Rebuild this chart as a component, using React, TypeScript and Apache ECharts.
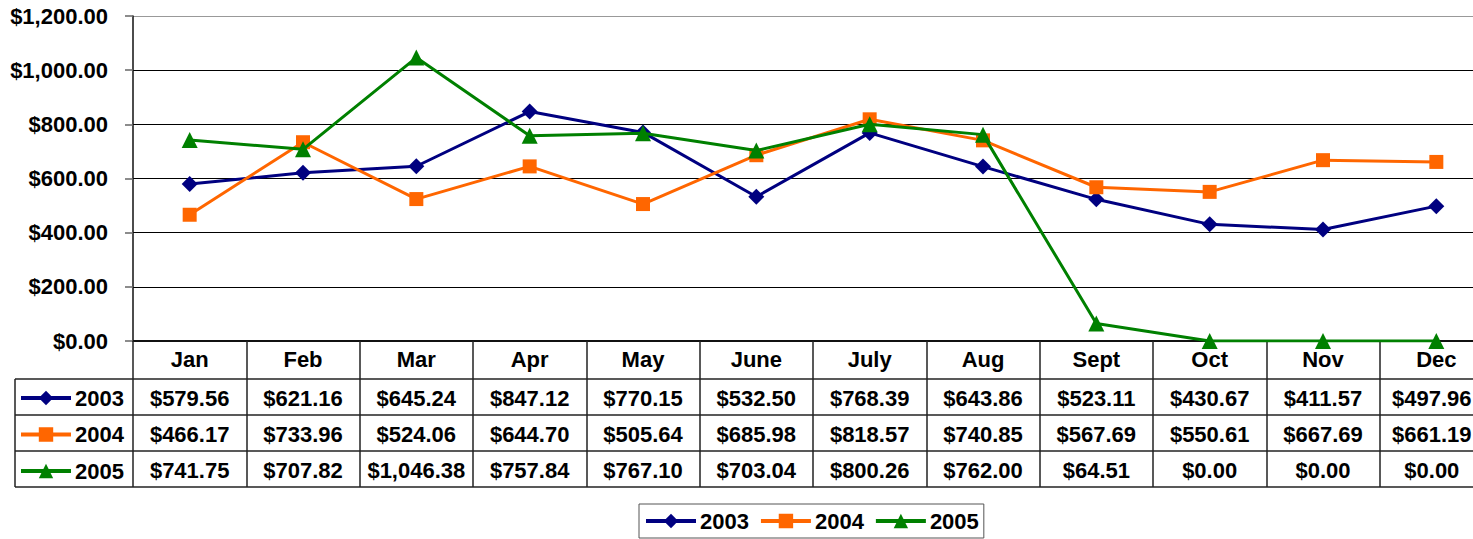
import React, { useEffect, useRef } from "react";
import * as echarts from "echarts";

const months = ["Jan", "Feb", "Mar", "Apr", "May", "June", "July", "Aug", "Sept", "Oct", "Nov", "Dec"];
const seriesNames = ["2003", "2004", "2005"];
const values2003 = [579.56, 621.16, 645.24, 847.12, 770.15, 532.5, 768.39, 643.86, 523.11, 430.67, 411.57, 497.96];
const values2004 = [466.17, 733.96, 524.06, 644.7, 505.64, 685.98, 818.57, 740.85, 567.69, 550.61, 667.69, 661.19];
const values2005 = [741.75, 707.82, 1046.38, 757.84, 767.1, 703.04, 800.26, 762.0, 64.51, 0, 0, 0];
const yTicks = { min: 0, max: 1200, interval: 200 };

const allValues = [values2003, values2004, values2005];
const colors = ["#000080", "#FF6600", "#008000"];
const symbols = ["diamond", "rect", "triangle"];
const symbolSizes = [16, 14, 16];

const FONT = "'Liberation Sans', Arial, sans-serif";

function money(v: number): string {
  const fixed = Math.abs(v).toFixed(2);
  const [intPart, dec] = fixed.split(".");
  const withCommas = intPart.replace(/\B(?=(\d{3})+(?!\d))/g, ",");
  return (v < 0 ? "-$" : "$") + withCommas + "." + dec;
}

export default function App() {
  const ref = useRef<HTMLDivElement>(null);

  useEffect(() => {
    if (!ref.current) return;
    const chart = echarts.init(ref.current, null, { renderer: "svg" });
    const textBase = { fontFamily: FONT, fontWeight: "bold" as const, fontSize: 22, color: "#000" };
    const gridLeft = 133;
    const gridTop = 16;
    const gridBottomY = 341;
    const H = 539;
    const lineColor = "#222";
    const lastIdx = months.length - 1;

    const valueAxes = allValues.map((vals, i) => ({
      type: "category" as const,
      data: months,
      position: "bottom" as const,
      gridIndex: 0,
      axisLine: { show: false },
      axisTick: { show: false },
      splitLine: { show: false },
      axisLabel: {
        interval: 0,
        margin: 57 + 36 * i,
        verticalAlign: "middle" as const,
        ...textBase,
        rich: { last: { ...textBase, padding: [0, 9, 0, 0] } },
        formatter: (_v: string, idx: number) =>
          idx === lastIdx ? `{last|${money(vals[idx])}}` : money(vals[idx]),
      },
    }));

    const hLines = [379, 415, 451, 487].map((y) => ({
      type: "line",
      shape: { x1: 15, y1: y, x2: 1493, y2: y },
      style: { stroke: lineColor, lineWidth: 1.5 },
      silent: true,
    }));

    chart.setOption({
      animation: false,
      backgroundColor: "#fff",
      grid: { left: gridLeft, top: gridTop, right: 0, bottom: H - gridBottomY, containLabel: false },
      xAxis: [
        {
          type: "category",
          data: months,
          position: "bottom",
          boundaryGap: true,
          axisLine: { show: true, lineStyle: { color: "#111", width: 2 } },
          axisTick: { show: true, interval: 0, length: 146, lineStyle: { color: lineColor, width: 1.5 } },
          axisLabel: { interval: 0, margin: 18, verticalAlign: "middle", ...textBase },
          splitLine: { show: false },
        },
        ...valueAxes,
      ],
      yAxis: {
        type: "value",
        min: yTicks.min,
        max: yTicks.max,
        interval: yTicks.interval,
        axisLine: { show: true, lineStyle: { color: "#111", width: 1.5 } },
        axisTick: { show: true, length: 8, lineStyle: { color: "#666", width: 1.5 } },
        axisLabel: { margin: 25, ...textBase, formatter: (v: number) => money(v) },
        splitLine: {
          show: true,
          lineStyle: { color: ["#000", "#000", "#000", "#000", "#000", "#000", "#999"], width: 1 },
        },
      },
      legend: [
        {
          orient: "vertical",
          left: 19,
          top: 387,
          padding: 0,
          itemWidth: 50,
          itemHeight: 18,
          itemGap: 14.5,
          selectedMode: false,
          lineStyle: { width: 4 },
          textStyle: { ...textBase, lineHeight: 20, padding: [0, 0, 0, -1] },
          data: seriesNames,
        },
        {
          orient: "horizontal",
          left: 639,
          top: 504,
          padding: [6, 5],
          itemWidth: 50,
          itemHeight: 18,
          itemGap: 10,
          selectedMode: false,
          borderColor: "#555",
          borderWidth: 1,
          lineStyle: { width: 4 },
          textStyle: { ...textBase, lineHeight: 22, padding: [0, 0, 0, -1] },
          data: seriesNames,
        },
      ],
      graphic: [
        ...hLines,
        {
          type: "line",
          shape: { x1: 15, y1: 379, x2: 15, y2: 487 },
          style: { stroke: lineColor, lineWidth: 1.5 },
          silent: true,
        },
      ],
      series: allValues.map((vals, i) => ({
        name: seriesNames[i],
        type: "line",
        data: vals,
        xAxisIndex: 0,
        yAxisIndex: 0,
        symbol: symbols[i],
        symbolSize: symbolSizes[i],
        showAllSymbol: true,
        lineStyle: { color: colors[i], width: 3 },
        itemStyle: { color: colors[i] },
        z: 3 + i,
      })),
    });
    return () => chart.dispose();
  }, []);

  return (
    <div style={{ position: "fixed", left: 0, top: 0, width: 1473, height: 539, overflow: "hidden", background: "#fff" }}>
      <div ref={ref} style={{ width: 1493, height: 539 }} />
    </div>
  );
}
